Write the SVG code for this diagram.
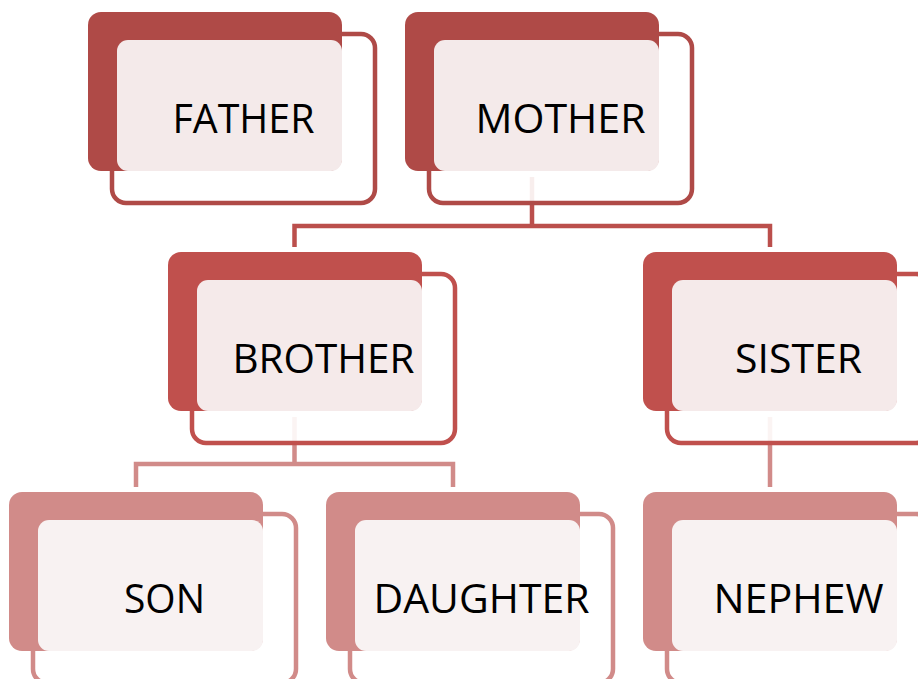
<svg xmlns="http://www.w3.org/2000/svg" width="918" height="679" viewBox="0 0 918 679">
<defs>
<style>
.lbl{font-family:"Open Sans","Noto Sans",sans-serif;font-size:40px;fill:#000;text-anchor:middle}
.frame{fill:#fff;fill-opacity:0.9;stroke-width:4.5}
.t1 .dark{fill:#af4a47}.t1 .frame{stroke:#af4a47}.t1 .light{fill:#f4eaea}
.t2 .dark{fill:#c0504d}.t2 .frame{stroke:#c0504d}.t2 .light{fill:#f5eaea}
.t3 .dark{fill:#d18b89}.t3 .frame{stroke:#d18b89}.t3 .light{fill:#f8f2f2}
.conn{fill:none;stroke-width:4.5}
</style>
</defs>
<rect width="918" height="679" fill="#fff"/>
<g id="connectors">
<path class="conn" stroke="#bb4f4c" d="M532,177V226M294.5,247V226H770V247"/>
<path class="conn" stroke="#d18b89" d="M294.5,417V464M136,487V464H453V487"/>
<path class="conn" stroke="#d18b89" d="M770,417V487"/>
</g>
<g id="father" class="t1">
<rect class="frame" x="112" y="34" width="263" height="169" rx="14"/>
<rect class="dark" x="88" y="12" width="254" height="159" rx="13"/>
<rect class="light" x="117" y="40" width="225" height="131" rx="11"/>
<text class="lbl" x="243.5" y="133" textLength="142" lengthAdjust="spacingAndGlyphs">FATHER</text>
</g>
<g id="mother" class="t1">
<rect class="frame" x="429" y="34" width="263" height="169" rx="14"/>
<rect class="dark" x="405" y="12" width="254" height="159" rx="13"/>
<rect class="light" x="434" y="40" width="225" height="131" rx="11"/>
<text class="lbl" x="560.5" y="133" textLength="170" lengthAdjust="spacingAndGlyphs">MOTHER</text>
</g>
<g id="brother" class="t2">
<rect class="frame" x="192" y="274" width="263" height="169" rx="14"/>
<rect class="dark" x="168" y="252" width="254" height="159" rx="13"/>
<rect class="light" x="197" y="280" width="225" height="131" rx="11"/>
<text class="lbl" x="323.5" y="373" textLength="182" lengthAdjust="spacingAndGlyphs">BROTHER</text>
</g>
<g id="sister" class="t2">
<rect class="frame" x="667" y="274" width="263" height="169" rx="14"/>
<rect class="dark" x="643" y="252" width="254" height="159" rx="13"/>
<rect class="light" x="672" y="280" width="225" height="131" rx="11"/>
<text class="lbl" x="798.5" y="373" textLength="127" lengthAdjust="spacingAndGlyphs">SISTER</text>
</g>
<g id="son" class="t3">
<rect class="frame" x="33" y="514" width="263" height="169" rx="14"/>
<rect class="dark" x="9" y="492" width="254" height="159" rx="13"/>
<rect class="light" x="38" y="520" width="225" height="131" rx="11"/>
<text class="lbl" x="164.5" y="613" textLength="81" lengthAdjust="spacingAndGlyphs">SON</text>
</g>
<g id="daughter" class="t3">
<rect class="frame" x="350" y="514" width="263" height="169" rx="14"/>
<rect class="dark" x="326" y="492" width="254" height="159" rx="13"/>
<rect class="light" x="355" y="520" width="225" height="131" rx="11"/>
<text class="lbl" x="481.5" y="613" textLength="216" lengthAdjust="spacingAndGlyphs">DAUGHTER</text>
</g>
<g id="nephew" class="t3">
<rect class="frame" x="667" y="514" width="263" height="169" rx="14"/>
<rect class="dark" x="643" y="492" width="254" height="159" rx="13"/>
<rect class="light" x="672" y="520" width="225" height="131" rx="11"/>
<text class="lbl" x="798.5" y="613" textLength="170" lengthAdjust="spacingAndGlyphs">NEPHEW</text>
</g>
</svg>
